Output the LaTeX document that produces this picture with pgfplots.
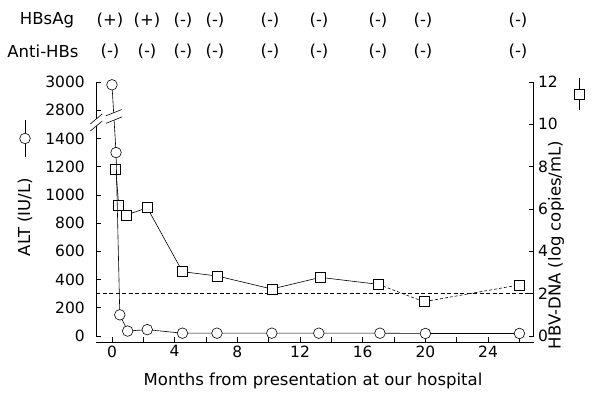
\documentclass[border=0pt]{standalone}
\usepackage{pgfplots}
\pgfplotsset{compat=1.18}
\usepackage{fontspec}
\setmainfont{DejaVu Sans}
\begin{document}
\begin{tikzpicture}[x=1pt,y=1pt]
\useasboundingbox (0,0) rectangle (592,393);
\pgfplotsset{
  base/.style={
    scale only axis, width=437.2pt, height=260pt,
    xmin=-1, xmax=26.9,
    at={(96.3pt,51pt)}, anchor=south west,
    tick align=inside, major tick length=5pt,
    every tick/.style={black, line width=0.6pt},
    tick label style={font=\fontsize{15.5}{18}\selectfont},
    /pgf/number format/assume math mode=true,
    clip=false,
  }
}
% ---- HBV-DNA (right axis) ----
\begin{axis}[base,
  ymin=-0.283, ymax=12,
  axis x line=none, axis y line*=right,
  y axis line style={draw=none},
  ytick={0,2,...,12},
  yticklabel style={xshift=1pt},
]
\draw[line width=0.7pt] (rel axis cs:1,0) ++(0,0) ; 
\draw[line width=0.7pt] (axis cs:26.9,0) -- (axis cs:26.9,12);
\draw[line width=0.7pt, dash pattern=on 4pt off 2.5pt] (axis cs:-1,2) -- (axis cs:26.9,2);
\addplot[line width=0.6pt, black, mark=square*, mark size=5pt, mark options={fill=white, draw=black, solid}]
  coordinates {(0.24,7.87) (0.43,6.19) (0.94,5.72) (2.25,6.06) (4.5,3.04) (6.74,2.83) (10.2,2.22) (13.3,2.77) (17.0,2.44)};
\addplot[line width=0.6pt, black, dash pattern=on 3pt off 2pt, mark=square*, mark size=5pt, mark options={fill=white, draw=black, solid}]
  coordinates {(17.0,2.44) (19.9,1.62) (25.97,2.41)};
\end{axis}
% ---- ALT (left axis, broken) ----
\begin{axis}[base,
  y coord trafo/.code={\pgfmathparse{#1>2000 ? #1-1200 : #1}},
  y coord inv trafo/.code={\pgfmathparse{#1>1500 ? #1+1200 : #1}},
  ymin=-42.5, ymax=3000,
  axis x line*=bottom, axis y line*=left,
  y axis line style={draw=none},
  x axis line style={line width=0.7pt, -},
  xtick={0,2,...,26}, xticklabels={0,,4,,8,,12,,16,,20,,24,},
  ytick={0,200,400,600,800,1000,1200,1400,2800,3000},
  yticklabels={0,200,400,600,800,1000,1200,1400,2800,3000},
  yticklabel style={xshift=-8pt},
]
\draw[line width=0.7pt] (axis cs:-1,0) -- (rel axis cs:0,1);
\addplot[line width=0.6pt, black, mark=*, mark size=5.3pt, mark options={fill=white, draw=black}]
  coordinates {(0,2980) (0.26,1300) (0.5,150) (1.0,35) (2.25,45) (4.5,20) (6.7,20) (10.2,20) (13.2,20) (17.1,20) (20.0,18) (26.0,18)};
% axis break
\fill[white] ([shift={(-6pt,-5pt)}]axis cs:-1,1538) -- ([shift={(6pt,5pt)}]axis cs:-1,1538) -- ([shift={(6pt,5pt)}]axis cs:-1,1488) -- ([shift={(-6pt,-5pt)}]axis cs:-1,1488) -- cycle;
\draw[line width=0.6pt] ([shift={(-6pt,-5pt)}]axis cs:-1,1538) -- ([shift={(6pt,5pt)}]axis cs:-1,1538);
\draw[line width=0.6pt] ([shift={(-6pt,-5pt)}]axis cs:-1,1488) -- ([shift={(6pt,5pt)}]axis cs:-1,1488);
% data line break
\fill[white] ([shift={(-8pt,-3.2pt)}]axis cs:0.107,1582) -- ([shift={(8pt,3.2pt)}]axis cs:0.107,1582) -- ([shift={(8pt,3.2pt)}]axis cs:0.138,1530) -- ([shift={(-8pt,-3.2pt)}]axis cs:0.138,1530) -- cycle;
\draw[line width=0.6pt] ([shift={(-8pt,-3.2pt)}]axis cs:0.107,1582) -- ([shift={(8pt,3.2pt)}]axis cs:0.107,1582);
\draw[line width=0.6pt] ([shift={(-8pt,-3.2pt)}]axis cs:0.138,1530) -- ([shift={(8pt,3.2pt)}]axis cs:0.138,1530);
\end{axis}
% ---- labels ----
\begin{scope}[every node/.style={font=\fontsize{16.5}{19}\selectfont, inner sep=0pt}]
\node at (313,12) {Months from presentation at our hospital};
\node[rotate=90] at (25,176) {ALT (IU/L)};
\node[rotate=90] at (556,148) {HBV-DNA (log copies/mL)};
\node at (47,373) {HBsAg};
\node at (43,342) {Anti-HBs};
\foreach \px/\s in {110/(+),147/(+),183/(-),215/(-),270/(-),319/(-),378/(-),423/(-),518/(-)}{
  \node at (\px,373) {\s};
  \node at (\px,342) {(-)};
}
\end{scope}
\draw[line width=0.6pt] (25,273) -- (25,236);
\draw[line width=0.6pt, fill=white] (25,254.5) circle (5.3);
\draw[line width=0.6pt] (579,315) -- (579,283);
\draw[line width=0.6pt, fill=white] (574,294) rectangle (584,304);
\end{tikzpicture}
\end{document}
